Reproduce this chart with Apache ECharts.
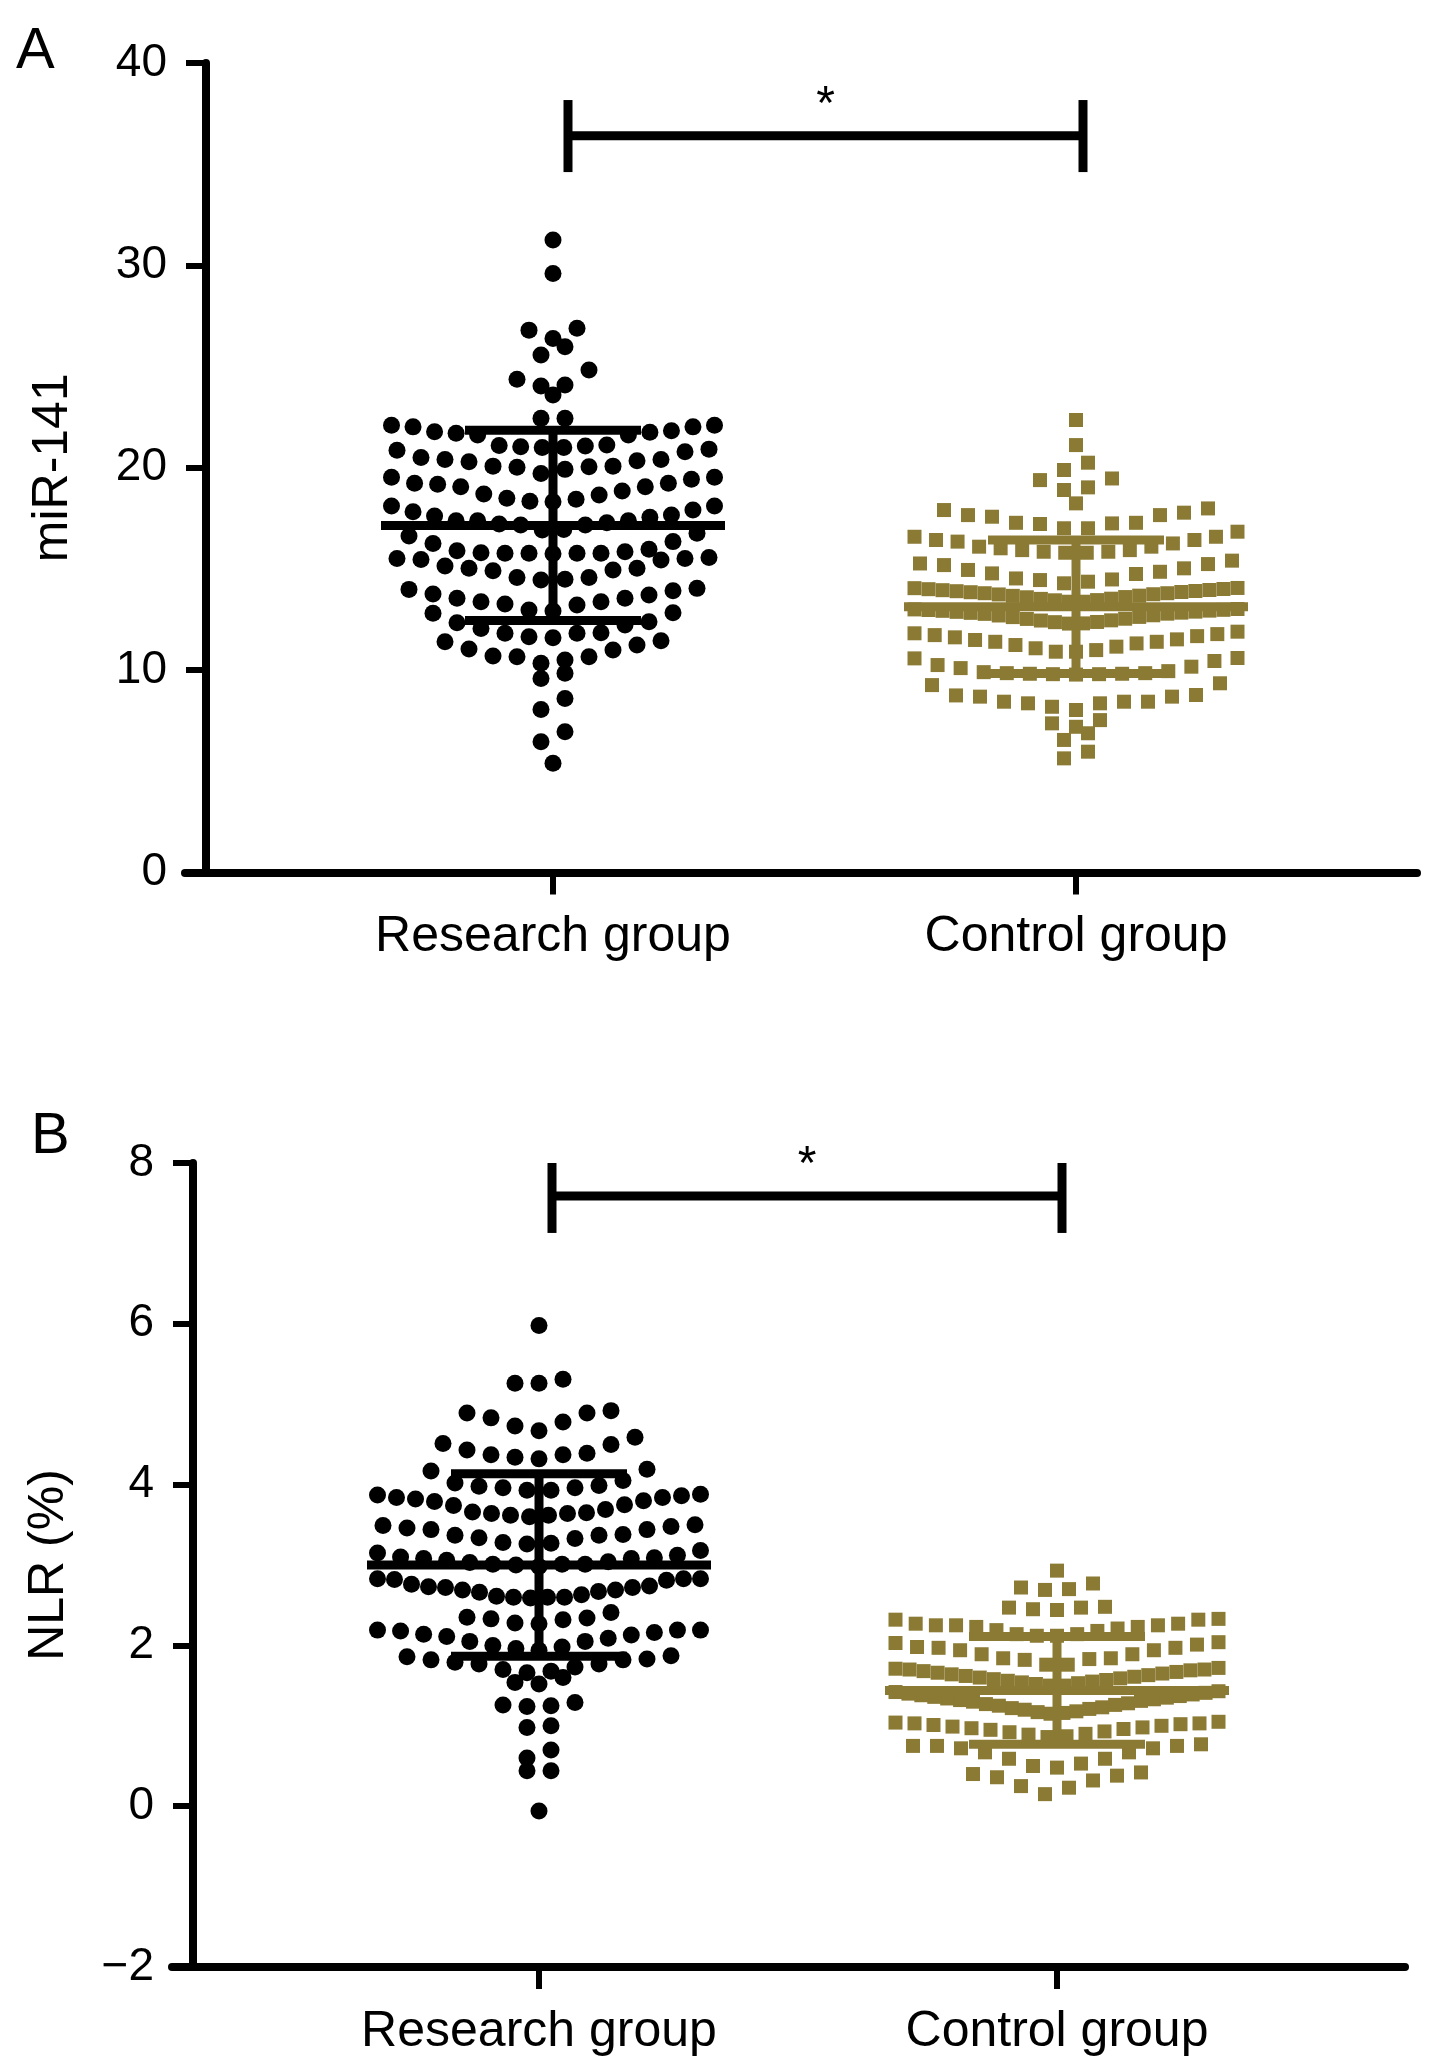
<!DOCTYPE html>
<html>
<head>
<meta charset="utf-8">
<script src="https://cdn.jsdelivr.net/npm/echarts@6/dist/echarts.min.js"></script>
<style>
html,body{margin:0;padding:0;background:#fff;}
#chart{width:1441px;height:2071px;}
</style>
</head>
<body>
<div id="chart"></div>
<script>
// ---------------- DATA ----------------
const categories = ['Research group', 'Control group'];
const yTitleA = 'miR-141';
const yTitleB = 'NLR (%)';

// Panel A: miR-141 values
const researchA = [
  31.25, 29.60, 26.89, 26.80, 26.39, 25.98, 25.57, 24.83, 24.37, 24.09, 24.04, 23.59, 22.44, 22.44,
  22.10, 22.02, 21.83, 21.75, 21.62, 21.12, 21.07, 21.00, 21.00, 21.04, 21.10, 21.62, 21.70, 21.78, 22.02, 22.10,
  20.87, 20.51, 20.41, 20.30, 20.08, 20.02, 19.72, 19.92, 20.05, 20.08, 20.35, 20.41, 20.79, 20.92,
  19.53, 19.23, 19.19, 19.06, 18.70, 18.49, 18.35, 18.32, 18.44, 18.65, 18.85, 19.06, 19.23, 19.43, 19.53,
  18.11, 17.83, 17.61, 17.38, 17.38, 17.22, 17.17, 16.95, 16.92, 17.17, 17.28, 17.38, 17.55, 17.66, 17.91, 18.11,
  16.76, 16.35, 15.97, 15.85, 15.77, 15.77, 15.75, 15.77, 15.77, 15.80, 15.90, 16.26, 16.63,
  15.52, 15.47, 15.14, 15.03, 14.91, 14.58, 14.45, 14.49, 14.58, 14.95, 15.03, 15.44, 15.52, 15.57,
  13.99, 13.76, 13.55, 13.38, 13.27, 12.97, 12.92, 13.22, 13.38, 13.55, 13.71, 13.92, 14.04,
  12.81, 12.39, 12.06, 11.82, 11.65, 11.60, 11.82, 11.85, 12.23, 12.34, 12.84,
  11.45, 11.24, 10.99, 10.66, 10.50, 10.34, 10.66, 10.70, 11.04, 11.40,
  9.84, 9.59, 8.60, 8.06, 6.96, 6.46, 5.40
];
const controlA = [
  22.36, 21.12, 20.25, 19.89, 19.47, 19.39, 19.03, 18.90, 18.24,
  17.99, 17.78, 17.66, 17.28, 17.22, 17.01, 17.01, 17.25, 17.28, 17.58, 17.66, 17.91,
  16.59, 16.43, 16.26, 16.10, 16.02, 15.93, 15.85, 15.80, 15.80, 15.85, 15.93, 16.10, 16.35, 16.43, 16.59, 16.84,
  15.41, 15.27, 15.24, 15.03, 14.95, 14.86, 14.78, 14.75, 14.53, 14.48, 14.45, 14.37, 14.29, 15.19,
  14.05, 14.00, 13.95, 13.90, 13.85, 13.80, 13.75, 13.68, 13.60, 13.52, 13.45, 13.38,
  13.38, 13.46, 13.53, 13.61, 13.67, 13.74, 13.80, 13.86, 13.91, 13.96, 14.01, 14.06,
  13.00, 12.97, 12.93, 12.88, 12.83, 12.78, 12.70, 12.62, 12.53, 12.45, 12.37, 12.30,
  12.31, 12.38, 12.46, 12.54, 12.63, 12.71, 12.79, 12.84, 12.89, 12.94, 12.98, 13.02,
  11.90, 11.78, 11.68, 11.52, 11.40, 11.32, 11.16, 10.99, 10.91, 10.91, 11.08, 11.24, 11.40, 11.49, 11.62, 11.73, 11.82,
  10.58, 10.25, 10.17, 9.90, 9.85, 9.82, 9.80, 9.78, 9.80, 9.82, 9.85, 9.95, 10.10, 10.45, 10.60,
  9.35, 9.26, 8.77, 8.75, 8.69, 8.69, 8.44, 8.44, 8.44, 8.36, 8.36, 8.19, 8.03, 7.53, 7.37, 7.20, 6.88, 6.55, 5.97, 5.64
];
// Panel B: NLR (%) values
const researchB = [
  5.98, 5.31, 5.26, 5.26,
  4.89, 4.83, 4.73, 4.67, 4.78, 4.89, 4.92,
  4.59, 4.50, 4.39, 4.37, 4.32, 4.34, 4.37, 4.43, 4.51,
  4.19, 4.05, 3.99, 3.96, 3.93, 3.93, 3.96, 3.98, 4.02, 4.17,
  3.88, 3.84, 3.82, 3.79, 3.74, 3.65, 3.64, 3.62, 3.60, 3.62, 3.64, 3.66, 3.69, 3.75, 3.80, 3.84, 3.86, 3.87,
  3.49, 3.46, 3.44, 3.37, 3.34, 3.28, 3.27, 3.26, 3.33, 3.37, 3.38, 3.44, 3.48, 3.50,
  3.18, 3.12, 3.10, 3.08, 3.06, 3.01, 3.01, 2.98, 3.00, 3.01, 3.03, 3.04, 3.08, 3.09, 3.15,
  2.83, 2.83, 2.82, 2.74, 2.72, 2.69, 2.67, 2.63, 2.61, 2.60, 2.60, 2.59, 2.60, 2.66, 2.69, 2.72, 2.73, 2.76, 2.81, 2.83,
  2.41, 2.33, 2.32, 2.27, 2.28, 2.34, 2.35,
  2.19, 2.18, 2.13, 2.11, 2.05, 2.00, 1.96, 1.94, 1.98, 2.05, 2.09, 2.14, 2.16, 2.19, 2.19,
  1.87, 1.83, 1.82, 1.77, 1.73, 1.70, 1.66, 1.68, 1.77, 1.79, 1.82, 1.86,
  1.60, 1.54, 1.52,
  1.29, 1.26, 1.25, 1.24,
  1.00, 0.98,
  0.70, 0.60,
  0.44, 0.44,
  -0.06
];
const controlB = [
  2.93,
  2.77, 2.72, 2.70, 2.69,
  2.48, 2.47, 2.47, 2.45, 2.44,
  2.33, 2.32, 2.27, 2.23, 2.23, 2.21, 2.18, 2.14, 2.12, 2.12, 2.14, 2.19, 2.25, 2.25, 2.25, 2.27, 2.32,
  2.04, 1.98, 1.97, 1.94, 1.89, 1.84, 1.83, 1.76, 1.76, 1.82, 1.84, 1.89, 1.94, 1.97, 2.01, 2.03,
  1.71, 1.70, 1.68, 1.66, 1.64, 1.62, 1.60, 1.58, 1.56, 1.54, 1.52, 1.50,
  1.50, 1.53, 1.55, 1.57, 1.59, 1.61, 1.63, 1.65, 1.67, 1.69, 1.70, 1.72,
  1.42, 1.40, 1.38, 1.36, 1.34, 1.32, 1.30, 1.27, 1.25, 1.22, 1.20, 1.17, 1.15,
  1.16, 1.18, 1.21, 1.23, 1.26, 1.28, 1.31, 1.33, 1.35, 1.37, 1.39, 1.41, 1.43,
  1.04, 1.03, 1.02, 1.00, 0.98, 0.96, 0.93, 0.90, 0.87,
  0.86, 0.89, 0.92, 0.95, 0.97, 0.99, 1.01, 1.03, 1.05,
  0.75, 0.75, 0.72, 0.67, 0.59, 0.50, 0.48, 0.53, 0.59, 0.67, 0.72, 0.75, 0.77,
  0.40, 0.36, 0.25, 0.15, 0.23, 0.32, 0.38, 0.42
];
// Mean and SD
const meanA = [17.15, 13.13];
const sdA = [4.70, 3.30];
const meanB = [3.00, 1.44];
const sdB = [1.135, 0.67];
// Significance bracket (y values: bar, tick top, tick bottom)
const sigA = [36.4, 38.17, 34.61];
const sigB = [7.59, 8.0, 7.13];
const sigLabel = '*';
// Axis tick settings
const yTicksA = {min: 0, max: 40, interval: 10};
const yTicksB = {min: -2, max: 8, interval: 2};

// Row boundaries used to stack equal-ish values side by side (dot-plot binning)
const binsResA = [5, 6, 7.5, 9.3, 10.2, 11.52, 12.88, 14.25, 15.66, 16.85, 18.2, 19.6, 20.97, 22.3, 23, 23.8, 25, 26.2, 27, 30, 32];
const binsConA = [5.5, 6.2, 7.0, 8.0, 9.5, 10.85, 12.1, 13.2, 14.2, 15.7, 16.95, 18.1, 18.8, 19.7, 20.5, 21.5, 23];
const binsResB = [-0.2, 0.3, 0.55, 0.85, 1.1, 1.4, 1.62, 1.9, 2.24, 2.5, 2.9, 3.22, 3.52, 3.905, 4.25, 4.62, 5.1, 5.6, 6.2];
const binsConB = [0.1, 0.46, 0.8, 1.1, 1.46, 1.735, 2.08, 2.38, 2.62, 2.85, 3.0];

// ---------------- LAYOUT ----------------
const FONT = "'Liberation Sans', Arial, Helvetica, sans-serif";
const OLIVE = '#8b7a34';
const PANELS = {
  A: {left: 185, top: 63, width: 1232, height: 809.5, axisX: 206, cat: [347, 870], sigDx: [15, 7], nameGap: 107},
  B: {left: 172, top: 1163, width: 1233, height: 804, axisX: 193, cat: [346, 864], sigDx: [13, 5], nameGap: 98}
};
const SPACING = 24, MAXW = 323;
const BAR_W = 9;

function swarm(values, bins, center) {
  const pts = [];
  for (let b = 0; b < bins.length - 1; b++) {
    const row = values.filter(v => v >= bins[b] && v < bins[b + 1]).sort((p, q) => p - q);
    const n = row.length;
    if (!n) continue;
    let s = SPACING;
    if ((n - 1) * s > MAXW) s = MAXW / (n - 1);
    const slots = [];
    for (let i = 0; i < n; i++) slots.push((i - (n - 1) / 2) * s);
    slots.sort((p, q) => (Math.abs(p) - Math.abs(q)) || (p - q));
    row.forEach((v, i) => pts.push([center + slots[i], v]));
  }
  return pts;
}

function errorBars(idx, cx, mean, sd, color) {
  return {
    type: 'custom', xAxisIndex: idx, yAxisIndex: idx, z: 5, silent: true,
    data: [[cx, mean, sd]],
    encode: {x: 0, y: 1},
    renderItem: (params, api) => {
      const x = api.value(0), m = api.value(1), s = api.value(2);
      const pm = api.coord([x, m]), pt = api.coord([x, m + s]), pb = api.coord([x, m - s]);
      const st = {stroke: color, lineWidth: BAR_W, fill: null};
      return {type: 'group', children: [
        {type: 'line', shape: {x1: pm[0] - 172, y1: pm[1], x2: pm[0] + 172, y2: pm[1]}, style: st},
        {type: 'line', shape: {x1: pt[0], y1: pt[1], x2: pb[0], y2: pb[1]}, style: st},
        {type: 'line', shape: {x1: pt[0] - 88, y1: pt[1], x2: pt[0] + 88, y2: pt[1]}, style: st},
        {type: 'line', shape: {x1: pb[0] - 88, y1: pb[1], x2: pb[0] + 88, y2: pb[1]}, style: st}
      ]};
    }
  };
}

function sigBracket(idx, x1, x2, sig) {
  return {
    type: 'custom', xAxisIndex: idx, yAxisIndex: idx, z: 6, silent: true,
    data: [[x1, x2, sig[0], sig[1], sig[2]]],
    encode: {x: [0, 1], y: [2, 3, 4]},
    renderItem: (params, api) => {
      const a = api.value(0), b = api.value(1), yb = api.value(2), yt = api.value(3), yl = api.value(4);
      const p1 = api.coord([a, yb]), p2 = api.coord([b, yb]);
      const t1 = api.coord([a, yt]), l1 = api.coord([a, yl]);
      const t2 = api.coord([b, yt]), l2 = api.coord([b, yl]);
      const st = {stroke: '#000', lineWidth: BAR_W, fill: null};
      return {type: 'group', children: [
        {type: 'line', shape: {x1: p1[0], y1: p1[1], x2: p2[0], y2: p2[1]}, style: st},
        {type: 'line', shape: {x1: t1[0], y1: t1[1], x2: l1[0], y2: l1[1]}, style: st},
        {type: 'line', shape: {x1: t2[0], y1: t2[1], x2: l2[0], y2: l2[1]}, style: st},
        {type: 'text', x: (p1[0] + p2[0]) / 2, y: p1[1] - 30,
          style: {text: sigLabel, fill: '#000', font: '48px ' + FONT, align: 'center', verticalAlign: 'middle'}}
      ]};
    }
  };
}

function axesFor(key, idx, yt, title) {
  const P = PANELS[key];
  const xMin = P.left - P.axisX, xMax = P.left + P.width - P.axisX;
  const xAxis = {
    type: 'value', gridIndex: idx, min: xMin, max: xMax,
    axisLine: {show: true, onZero: false, lineStyle: {color: '#000', width: 8}},
    axisTick: {show: true, customValues: P.cat, length: 22, lineStyle: {color: '#000', width: 6}},
    axisLabel: {show: true, customValues: P.cat, margin: 40, color: '#000', fontSize: 50, fontFamily: FONT,
      formatter: v => categories[P.cat.reduce((bi, c, i) => Math.abs(c - v) < Math.abs(P.cat[bi] - v) ? i : bi, 0)]},
    splitLine: {show: false}
  };
  const yAxis = {
    type: 'value', gridIndex: idx, min: yt.min, max: yt.max, interval: yt.interval,
    name: title, nameLocation: 'middle', nameGap: P.nameGap,
    nameTextStyle: {color: '#000', fontSize: 50, fontFamily: FONT},
    axisLine: {show: true, onZero: true, lineStyle: {color: '#000', width: 8}},
    axisTick: {show: true, length: 20, lineStyle: {color: '#000', width: 6}},
    axisLabel: {color: '#000', fontSize: 46, fontFamily: FONT, margin: 18,
      formatter: v => v < 0 ? '\u2212' + Math.abs(v) : String(v)},
    splitLine: {show: false}
  };
  return {xAxis, yAxis};
}

const axA = axesFor('A', 0, yTicksA, yTitleA);
const axB = axesFor('B', 1, yTicksB, yTitleB);
const PA = PANELS.A, PB = PANELS.B;

const option = {
  animation: false,
  backgroundColor: '#ffffff',
  textStyle: {fontFamily: FONT},
  grid: [
    {left: PA.left, top: PA.top, width: PA.width, height: PA.height, containLabel: false},
    {left: PB.left, top: PB.top, width: PB.width, height: PB.height, containLabel: false}
  ],
  xAxis: [axA.xAxis, axB.xAxis],
  yAxis: [axA.yAxis, axB.yAxis],
  graphic: [
    {type: 'text', left: 16, top: 23, style: {text: 'A', fill: '#000', font: '58px ' + FONT}},
    {type: 'text', left: 31, top: 1108, style: {text: 'B', fill: '#000', font: '58px ' + FONT}}
  ],
  series: [
    {type: 'scatter', xAxisIndex: 0, yAxisIndex: 0, symbol: 'circle', symbolSize: 17, silent: true,
      itemStyle: {color: '#000', opacity: 1}, data: swarm(researchA, binsResA, PA.cat[0]), z: 2},
    {type: 'scatter', xAxisIndex: 0, yAxisIndex: 0, symbol: 'rect', symbolSize: 14, silent: true,
      itemStyle: {color: OLIVE, opacity: 1}, data: swarm(controlA, binsConA, PA.cat[1]), z: 2},
    errorBars(0, PA.cat[0], meanA[0], sdA[0], '#000'),
    errorBars(0, PA.cat[1], meanA[1], sdA[1], OLIVE),
    sigBracket(0, PA.cat[0] + PA.sigDx[0], PA.cat[1] + PA.sigDx[1], sigA),
    {type: 'scatter', xAxisIndex: 1, yAxisIndex: 1, symbol: 'circle', symbolSize: 17, silent: true,
      itemStyle: {color: '#000', opacity: 1}, data: swarm(researchB, binsResB, PB.cat[0]), z: 2},
    {type: 'scatter', xAxisIndex: 1, yAxisIndex: 1, symbol: 'rect', symbolSize: 14, silent: true,
      itemStyle: {color: OLIVE, opacity: 1}, data: swarm(controlB, binsConB, PB.cat[1]), z: 2},
    errorBars(1, PB.cat[0], meanB[0], sdB[0], '#000'),
    errorBars(1, PB.cat[1], meanB[1], sdB[1], OLIVE),
    sigBracket(1, PB.cat[0] + PB.sigDx[0], PB.cat[1] + PB.sigDx[1], sigB)
  ]
};

const chart = echarts.init(document.getElementById('chart'), null, {renderer: 'canvas', width: 1441, height: 2071});
chart.setOption(option);
</script>
</body>
</html>
